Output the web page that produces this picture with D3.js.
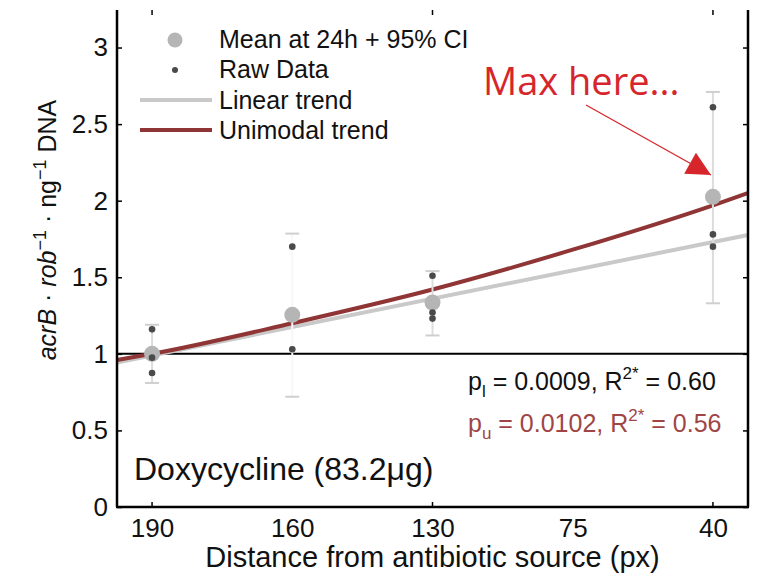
<!DOCTYPE html>
<html>
<head>
<meta charset="utf-8">
<script src="https://cdn.jsdelivr.net/npm/d3@7"></script>
<style>
  html, body { margin: 0; padding: 0; background: #fff; }
  svg { display: block; font-family: "Liberation Sans", Arial, Helvetica, sans-serif; }
</style>
</head>
<body>
<svg id="chart" width="759" height="576"></svg>
<script>
// Distance categories (px from antibiotic source)
const distances = ["190", "160", "130", "75", "40"];

// Mean expression at 24h with 95% CI
const meanDist  = ["190", "160", "130", "40"];
const meanValue = [1.00, 1.255, 1.335, 2.025];
const ciLow     = [0.81, 0.72, 1.12, 1.33];
const ciHigh    = [1.19, 1.785, 1.54, 2.71];

// Raw replicate measurements
const rawDist  = ["190", "190", "190", "160", "160", "130", "130", "130", "40", "40", "40"];
const rawValue = [1.16, 0.975, 0.875, 1.70, 1.03, 1.51, 1.27, 1.23, 2.61, 1.78, 1.70];

// Fitted trends, evaluated along the category axis (position index)
const linearPos = [-0.25, 4.25];
const linearVal = [0.944, 1.776];
const unimodalPos = [-0.25, 0, 1, 2, 3, 4, 4.25];
const unimodalVal = [0.96, 1.00, 1.20, 1.42, 1.68, 1.97, 2.05];

// Axis ticks
const yTicks = [0, 0.5, 1, 1.5, 2, 2.5, 3];
const xTickMarks = ["190", "130", "40"];

const svg = d3.select("#chart");
const plotLeft = 117, plotRight = 748, plotTop = 10, plotBottom = 507;

const pos = d3.scaleOrdinal().domain(distances).range([0, 1, 2, 3, 4]);
const x = d3.scaleLinear().domain([-0.25, 4.25]).range([plotLeft, plotRight]);
const xd = d => x(pos(d));
const y = d3.scaleLinear().domain([0, 3.245]).range([plotBottom, plotTop]);

const red = "#8f3535";
const grey = "#c9c9c9";

// Reference line at fold-change 1
svg.append("line")
  .attr("x1", plotLeft).attr("x2", plotRight)
  .attr("y1", y(1)).attr("y2", y(1))
  .attr("stroke", "#000").attr("stroke-width", 2);

// Trend lines
svg.append("path")
  .datum(linearPos.map((p, i) => [p, linearVal[i]]))
  .attr("d", d3.line().x(d => x(d[0])).y(d => y(d[1])))
  .attr("fill", "none").attr("stroke", grey).attr("stroke-width", 4);

svg.append("path")
  .datum(unimodalPos.map((p, i) => [p, unimodalVal[i]]))
  .attr("d", d3.line().x(d => x(d[0])).y(d => y(d[1])).curve(d3.curveMonotoneX))
  .attr("fill", "none").attr("stroke", red).attr("stroke-width", 4);

// Confidence intervals
const ci = svg.append("g");
meanDist.forEach((d, i) => {
  const cx = xd(d);
  ci.append("line")
    .attr("x1", cx).attr("x2", cx)
    .attr("y1", y(ciLow[i])).attr("y2", y(ciHigh[i]))
    .attr("stroke", d === "160" ? "#f7f7f7" : "#dcdcdc").attr("stroke-width", 2);
  [ciLow[i], ciHigh[i]].forEach(v => {
    ci.append("line")
      .attr("x1", cx - 7).attr("x2", cx + 7)
      .attr("y1", y(v)).attr("y2", y(v))
      .attr("stroke", "#cfcfcf").attr("stroke-width", 2);
  });
});

// Means
svg.append("g").selectAll("circle")
  .data(meanValue)
  .join("circle")
  .attr("cx", (v, i) => xd(meanDist[i]))
  .attr("cy", v => y(v))
  .attr("r", 8)
  .attr("fill", "#b5b5b5");

// Raw data points
svg.append("g").selectAll("circle")
  .data(rawValue)
  .join("circle")
  .attr("cx", (v, i) => xd(rawDist[i]))
  .attr("cy", v => y(v))
  .attr("r", 3.3)
  .attr("fill", "#4a4a4a");

// Frame: left, right, bottom
const frame = svg.append("g").attr("stroke", "#000").attr("stroke-width", 2.5);
frame.append("line").attr("x1", plotLeft).attr("x2", plotLeft).attr("y1", plotTop).attr("y2", plotBottom);
frame.append("line").attr("x1", plotRight).attr("x2", plotRight).attr("y1", plotTop).attr("y2", plotBottom);
frame.append("line").attr("x1", plotLeft - 1).attr("x2", plotRight + 1).attr("y1", plotBottom).attr("y2", plotBottom);

// Left y axis
const yAxisL = svg.append("g")
  .attr("transform", `translate(${plotLeft},0)`)
  .call(d3.axisLeft(y).tickValues(yTicks).tickSize(-5).tickPadding(9)
    .tickFormat(d3.format("")));
yAxisL.select(".domain").remove();
yAxisL.selectAll(".tick line").attr("stroke", "#000").attr("stroke-width", 1.5);
yAxisL.selectAll(".tick text")
  .attr("font-size", 26).attr("fill", "#111")
  .attr("font-family", "Liberation Sans, Arial, sans-serif");

// Right y axis (ticks only)
const yAxisR = svg.append("g")
  .attr("transform", `translate(${plotRight},0)`)
  .call(d3.axisRight(y).tickValues(yTicks).tickSize(-5).tickFormat(""));
yAxisR.select(".domain").remove();
yAxisR.selectAll(".tick line").attr("stroke", "#000").attr("stroke-width", 1.5);

// Bottom x axis
const xAxisB = svg.append("g")
  .attr("transform", `translate(0,${plotBottom})`)
  .call(d3.axisBottom(x).tickValues(distances.map(pos)).tickSize(0).tickPadding(12)
    .tickFormat(i => distances[i]));
xAxisB.select(".domain").remove();
xAxisB.selectAll(".tick text")
  .attr("font-size", 26).attr("fill", "#111")
  .attr("font-family", "Liberation Sans, Arial, sans-serif");

// Inward tick marks on bottom and top
xTickMarks.forEach(d => {
  svg.append("line").attr("x1", xd(d)).attr("x2", xd(d))
    .attr("y1", plotBottom).attr("y2", plotBottom - 5)
    .attr("stroke", "#000").attr("stroke-width", 1.5);
  svg.append("line").attr("x1", xd(d)).attr("x2", xd(d))
    .attr("y1", plotTop).attr("y2", plotTop + 5)
    .attr("stroke", "#000").attr("stroke-width", 1.5);
});

// Axis titles
svg.append("text")
  .attr("x", x(2)).attr("y", 567)
  .attr("text-anchor", "middle")
  .attr("font-size", 29).attr("fill", "#111")
  .text("Distance from antibiotic source (px)");

const yTitle = svg.append("text")
  .attr("transform", `translate(56,230) rotate(-90)`)
  .attr("text-anchor", "middle")
  .attr("font-size", 25).attr("fill", "#111");
yTitle.append("tspan").attr("font-style", "italic").text("acrB");
yTitle.append("tspan").text(" · ");
yTitle.append("tspan").attr("font-style", "italic").text("rob");
yTitle.append("tspan").attr("dy", -10).attr("font-size", 18).text("−1");
yTitle.append("tspan").attr("dy", 10).text(" · ng");
yTitle.append("tspan").attr("dy", -10).attr("font-size", 18).text("−1");
yTitle.append("tspan").attr("dy", 10).text(" DNA");

// Legend
const lg = svg.append("g").attr("font-size", 25).attr("fill", "#111");
lg.append("circle").attr("cx", 175).attr("cy", 40).attr("r", 7.5).attr("fill", "#b5b5b5");
lg.append("circle").attr("cx", 175).attr("cy", 70).attr("r", 3).attr("fill", "#4a4a4a");
lg.append("line").attr("x1", 140).attr("x2", 212).attr("y1", 100).attr("y2", 100)
  .attr("stroke", grey).attr("stroke-width", 4);
lg.append("line").attr("x1", 140).attr("x2", 212).attr("y1", 130).attr("y2", 130)
  .attr("stroke", red).attr("stroke-width", 4);
const legendLabels = ["Mean at 24h + 95% CI", "Raw Data", "Linear trend", "Unimodal trend"];
legendLabels.forEach((t, i) => {
  lg.append("text").attr("x", 219).attr("y", 48 + i * 30.3).text(t);
});

// Fit statistics
const s1 = svg.append("text").attr("x", 468).attr("y", 390)
  .attr("font-size", 25).attr("fill", "#111");
s1.append("tspan").text("p");
s1.append("tspan").attr("dy", 7).attr("font-size", 17).text("l");
s1.append("tspan").attr("dy", -7).text(" = 0.0009, R");
s1.append("tspan").attr("dy", -11).attr("font-size", 17).text("2*");
s1.append("tspan").attr("dy", 11).text(" = 0.60");

const s2 = svg.append("text").attr("x", 468).attr("y", 432)
  .attr("font-size", 25).attr("fill", "#a04545");
s2.append("tspan").text("p");
s2.append("tspan").attr("dy", 7).attr("font-size", 17).text("u");
s2.append("tspan").attr("dy", -7).text(" = 0.0102, R");
s2.append("tspan").attr("dy", -11).attr("font-size", 17).text("2*");
s2.append("tspan").attr("dy", 11).text(" = 0.56");

// Panel label
svg.append("text").attr("x", 134).attr("y", 480)
  .attr("font-size", 32).attr("fill", "#111")
  .text("Doxycycline (83.2μg)");

// Annotation
const annRed = "#d7262b";
svg.append("defs").append("marker")
  .attr("id", "arrowhead")
  .attr("viewBox", "0 0 10 10")
  .attr("refX", 10).attr("refY", 5)
  .attr("markerUnits", "userSpaceOnUse")
  .attr("markerWidth", 30).attr("markerHeight", 24)
  .attr("orient", "auto")
  .append("path").attr("d", "M0,0 L10,5 L0,10 Z").attr("fill", annRed);

svg.append("line")
  .attr("x1", 586).attr("y1", 105)
  .attr("x2", 711).attr("y2", 175)
  .attr("stroke", annRed).attr("stroke-width", 1.3)
  .attr("marker-end", "url(#arrowhead)");

svg.append("text")
  .attr("x", 483).attr("y", 95)
  .attr("font-family", "'Open Sans', 'Noto Sans', sans-serif")
  .attr("font-size", 38).attr("fill", annRed)
  .text("Max here...");
</script>
</body>
</html>
